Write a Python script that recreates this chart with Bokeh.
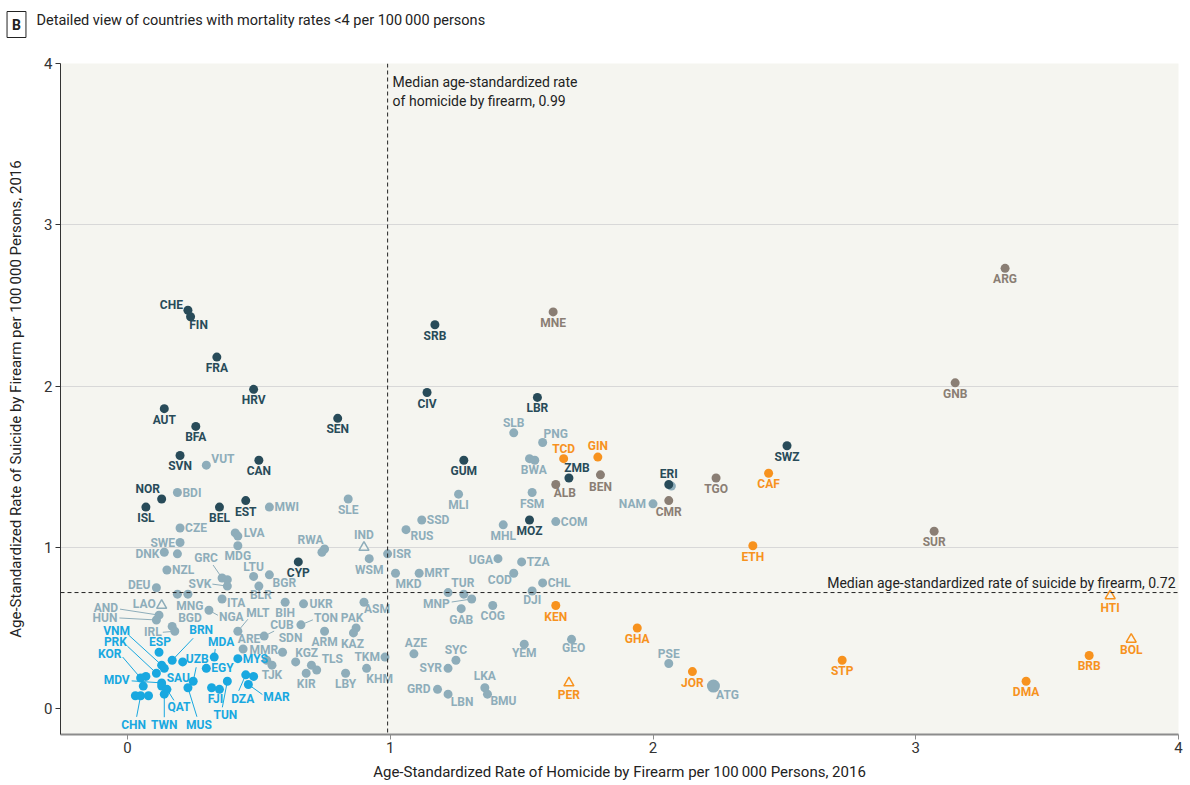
from bokeh.plotting import figure
from bokeh.models import Range1d, Label, Span, ColumnDataSource, FixedTicker
from bokeh.core.properties import value
from bokeh.embed import file_html
from bokeh.resources import INLINE

# ---------------- data ----------------
codes = ["CHE","FIN","FRA","HRV","AUT","BFA","SVN","CAN","SEN","NOR","ISL","BEL","EST","CYP",
         "SRB","CIV","LBR","GUM","ZMB","MOZ","ERI","SWZ",
         "VUT","BDI","CZE","SWE","DNK","","NZL","DEU","","MNG","LAO","AND","HUN","BGD","IRL","NGA",
         "GRC","","SVK","ITA","","LVA","MDG","MWI","SLE","","RWA","IND","WSM","ISR","LTU","BGR","BLR",
         "UKR","BIH","MLT","ARE","CUB","TON","SDN","MMR","TJK","KGZ","KIR","","TLS","ARM","PAK","KAZ",
         "ASM","LBY","TKM","KHM","MKD","MRT","RUS","SSD","MLI","MHL","FSM","COM","UGA","TZA","COD",
         "CHL","DJI","","TUR","MNP","GAB","COG","GEO","AZE","SYC","SYR","GRD","LBN","LKA","BMU","YEM",
         "SLB","PNG","","BWA","NAM","","PSE","ATG",
         "ALB","BEN","CMR","TGO","SUR","GNB","ARG","MNE",
         "TCD","GIN","CAF","ETH","KEN","GHA","JOR","STP","DMA","BRB","PER","HTI","BOL",
         "ESP","BRN","","VNM","","PRK","","KOR","MDV","SAU","QAT","","","CHN","","TWN","MUS","UZB",
         "EGY","MDA","FJI","","TUN","DZA","","MAR","MYS"]

homicide = [0.23,0.24,0.34,0.48,0.14,0.26,0.20,0.50,0.80,0.13,0.07,0.35,0.45,0.65,
            1.17,1.14,1.56,1.28,1.68,1.53,2.06,2.51,
            0.30,0.19,0.20,0.20,0.14,0.19,0.15,0.11,0.19,0.23,0.13,0.12,0.11,0.17,0.18,0.31,
            0.36,0.38,0.38,0.36,0.41,0.42,0.42,0.54,0.84,0.74,0.75,0.90,0.92,0.99,0.48,0.54,0.50,
            0.67,0.60,0.42,0.44,0.52,0.66,0.59,0.53,0.55,0.64,0.68,0.70,0.72,0.75,0.87,0.86,
            0.90,0.83,0.98,0.91,1.02,1.11,1.06,1.12,1.26,1.43,1.54,1.63,1.41,1.50,1.47,
            1.58,1.54,1.22,1.28,1.31,1.27,1.39,1.69,1.09,1.25,1.22,1.18,1.22,1.36,1.37,1.51,
            1.47,1.58,1.53,1.55,2.00,2.07,2.06,2.23,
            1.63,1.80,2.06,2.24,3.07,3.15,3.34,1.62,
            1.66,1.79,2.44,2.38,1.63,1.94,2.15,2.72,3.42,3.66,1.68,3.74,3.82,
            0.12,0.17,0.21,0.13,0.14,0.11,0.07,0.05,0.13,0.13,0.15,0.06,0.03,0.05,0.08,0.14,0.23,0.25,
            0.30,0.33,0.32,0.35,0.38,0.45,0.48,0.46,0.42]

suicide = [2.47,2.43,2.18,1.98,1.86,1.75,1.57,1.54,1.80,1.30,1.25,1.25,1.29,0.91,
           2.38,1.96,1.93,1.54,1.43,1.17,1.39,1.63,
           1.51,1.34,1.12,1.03,0.97,0.96,0.86,0.75,0.71,0.71,0.64,0.58,0.55,0.51,0.48,0.61,
           0.81,0.80,0.76,0.68,1.09,1.07,1.01,1.25,1.30,0.97,0.99,1.00,0.93,0.96,0.82,0.83,0.76,
           0.65,0.66,0.48,0.37,0.45,0.52,0.35,0.30,0.27,0.29,0.22,0.27,0.24,0.48,0.50,0.47,
           0.66,0.22,0.32,0.25,0.84,0.84,1.11,1.17,1.33,1.14,1.34,1.16,0.93,0.91,0.84,
           0.78,0.73,0.72,0.71,0.68,0.62,0.64,0.43,0.34,0.30,0.25,0.12,0.09,0.13,0.09,0.40,
           1.71,1.65,1.55,1.54,1.27,1.38,0.28,0.14,
           1.39,1.45,1.29,1.43,1.10,2.02,2.73,2.46,
           1.55,1.56,1.46,1.01,0.64,0.50,0.23,0.30,0.17,0.33,0.16,0.70,0.43,
           0.35,0.30,0.29,0.27,0.25,0.22,0.20,0.19,0.16,0.14,0.12,0.14,0.08,0.08,0.08,0.09,0.13,0.17,
           0.25,0.32,0.13,0.12,0.17,0.21,0.20,0.15,0.31]

group = (["D"] * 22 + ["L"] * 88 + ["G"] * 8 + ["O"] * 13 + ["B"] * 27)

TRIANGLES = {"LAO", "IND", "PER", "HTI", "BOL"}
BIG = {"ATG": 13}

COLORS = {"D": "#284b59", "L": "#8eadba", "B": "#19a8e0", "G": "#8a7e74", "O": "#f7921e"}

# label placement: (dx, dy, align[, leader end offset]) in screen pixels, dy positive = down
DEFAULT = (0, 11, "center")
LAB = {
    "CHE": (-5, -5, "right"), "FIN": (8, 8, "center"), "NOR": (-14, -10, "center"),
    "ZMB": (8, -10, "center"), "ERI": (0, -10, "center"),
    "VUT": (5, -6, "left"), "BDI": (5, 0, "left"), "CZE": (5, 0, "left"), "SWE": (-5, 0, "right"),
    "DNK": (-5, 2, "right"), "NZL": (5, 0, "left"), "DEU": (-6, -3, "right"), "MNG": (2, 12, "center"),
    "LAO": (-6, -1, "right"), "AND": (-41, -7, "right", (-39, -6)), "HUN": (-39, -2, "right", (-37, -2)),
    "BGD": (6, -8, "left"), "IRL": (-13, 1, "right", (-12, 1)), "NGA": (10, 7, "left", (9, 5)),
    "GRC": (-16, -20, "center", (-9, -13)), "SVK": (-16, -2, "right", (-15, -2)), "ITA": (5, 4, "left"),
    "LVA": (6, -3, "left"), "MDG": (0, 10, "center"), "MWI": (5, 0, "left"), "RWA": (-14, -9, "center"),
    "IND": (0, -12, "center"), "ISR": (5, 0, "left"), "LTU": (0, -9, "center"), "BGR": (15, 8, "center"),
    "BLR": (2, 9, "center"), "UKR": (6, 0, "left"), "MLT": (20, -18, "center", (10, -12)),
    "ARE": (6, -10, "center"), "CUB": (6, -11, "left", (10, -5)), "TON": (13, -7, "left", (12, -5)),
    "SDN": (8, -14, "center"), "MMR": (-3, -10, "center"), "TJK": (0, 10, "center"),
    "KGZ": (11, -9, "center"), "TLS": (5, -11, "left"), "PAK": (-4, -10, "center"),
    "KAZ": (-1, 11, "center"), "ASM": (13, 7, "center"), "TKM": (-5, 0, "right"), "KHM": (13, 11, "center"),
    "MKD": (13, 11, "center"), "MRT": (5, 0, "left"), "RUS": (16, 6, "center"), "SSD": (5, 0, "left"),
    "COM": (5, 0, "left"), "UGA": (-5, 1, "right"), "TZA": (5, 0, "left"), "COD": (-14, 7, "center"),
    "CHL": (5, 0, "left"), "DJI": (0, 9, "center"), "TUR": (-1, -11, "center"),
    "MNP": (-22, 5, "right", (-20, 3)), "GEO": (2, 9, "center"), "AZE": (2, -11, "center"),
    "SYC": (0, -10, "center"), "SYR": (-6, 0, "right"), "GRD": (-7, 0, "right"), "LBN": (14, 8, "center"),
    "LKA": (0, -12, "center"), "BMU": (16, 7, "center"), "YEM": (0, 9, "center"), "SLB": (0, -10, "center"),
    "PNG": (13, -9, "center"), "BWA": (-1, 10, "center"), "NAM": (-7, 0, "right"), "PSE": (0, -10, "center"),
    "ATG": (14, 9, "center"), "ALB": (9, 9, "center"), "BEN": (0, 12, "center"),
    "TCD": (0, -10, "center"), "GIN": (0, -11, "center"), "KEN": (0, 12, "center"),
    "PER": (0, 12, "center"), "HTI": (0, 12, "center"),
    "ESP": (1, -10, "center"), "BRN": (29, -30, "center", (21, -22)), "VNM": (-45, -34, "center", (-33, -30)),
    "PRK": (-41, -31, "center", (-29, -27)), "KOR": (-31, -24, "center", (-18, -21)),
    "MDV": (-32, -3, "right", (-30, -2)), "SAU": (5, -8, "left"), "QAT": (12, 18, "center", (7, 11)),
    "CHN": (-7, 29, "center", (-4, 21)), "TWN": (0, 31, "center", (0, 23)), "MUS": (11, 37, "center", (9, 29)),
    "UZB": (4, -22, "center", (3, -14)), "EGY": (5, 0, "left"), "MDA": (7, -15, "center", (1, -8)),
    "FJI": (4, 11, "center"), "TUN": (-2, 34, "center", (-5, 26)), "DZA": (-3, 24, "center", (-7, 16)),
    "MAR": (15, 13, "left", (14, 10)), "MYS": (5, 0, "left"),
}

FONT = "Roboto"
X0, X1 = -0.255, 4.0
Y0, Y1 = -0.16, 4.0
FW, FH = 1118, 670
PX = FW / (X1 - X0)
PY = FH / (Y1 - Y0)
BG = "#f5f5f0"

p = figure(width=1186, height=783, x_range=Range1d(X0, X1), y_range=Range1d(Y0, Y1),
           output_backend="svg", toolbar_location=None,
           min_border_left=60, min_border_right=8, min_border_top=63, min_border_bottom=10)
p.background_fill_color = BG
p.border_fill_color = "white"
p.outline_line_color = None

# axes
for ax in (p.xaxis, p.yaxis):
    ax.ticker = FixedTicker(ticks=[0, 1, 2, 3, 4])
    ax.minor_tick_line_color = None
    ax.major_tick_in = 0
    ax.major_tick_out = 5
    ax.major_label_text_font = FONT
    ax.major_label_text_font_size = "15px"
    ax.major_label_text_color = "#333333"
    ax.axis_label_text_font = FONT
    ax.axis_label_text_font_size = "15px"
    ax.axis_label_text_font_style = "normal"
    ax.axis_label_text_color = "#222222"
p.xaxis.axis_label = "Age-Standardized Rate of Homicide by Firearm per 100\u2009000 Persons, 2016"
p.yaxis.axis_label = "Age-Standardized Rate of Suicide by Firearm per 100\u2009000 Persons, 2016"
p.xaxis.axis_line_color = "#8c8c8c"
p.xaxis.axis_line_width = 2
p.xaxis.major_tick_line_color = "#8c8c8c"
p.yaxis.axis_line_color = "#333333"
p.yaxis.major_tick_line_color = "#333333"
p.xaxis.major_label_standoff = 2
p.xaxis.axis_label_standoff = 7
p.yaxis.major_label_standoff = 3
p.yaxis.axis_label_standoff = 16
p.xgrid.grid_line_color = None
p.ygrid.ticker = FixedTicker(ticks=[1, 2, 3, 4])
p.ygrid.grid_line_color = "#d8d8d8"

# medians
p.add_layout(Span(location=0.99, dimension="height", line_color="#222222", line_width=1, line_dash="4 3"))
p.add_layout(Span(location=0.72, dimension="width", line_color="#222222", line_width=1, line_dash="4 3"))
for txt, off in (("Median age-standardized rate", -18), ("of homicide by firearm, 0.99", -37)):
    p.add_layout(Label(x=0.99, y=Y1, x_offset=5, y_offset=off, text=txt, text_font=FONT,
                       text_font_size="14px", text_color="#222222", text_baseline="middle"))
p.add_layout(Label(x=X1, y=0.72, x_offset=-3, y_offset=10,
                   text="Median age-standardized rate of suicide by firearm, 0.72",
                   text_font=FONT, text_font_size="14px", text_color="#222222",
                   text_align="right", text_baseline="middle"))

# title (each label sits in its own stacked top panel, screen units relative to it)
p.add_layout(Label(x=-44, y=39, x_units="screen", y_units="screen", text="B", text_font=FONT,
                   text_font_size="14px", text_font_style="bold", text_color="#222222",
                   text_align="center", text_baseline="middle",
                   border_line_color="#222222", border_line_width=1, padding=5), "above")
p.add_layout(Label(x=-24, y=17, x_units="screen", y_units="screen",
                   text="Detailed view of countries with mortality rates <4 per 100\u2009000 persons",
                   text_font=FONT, text_font_size="14.5px", text_color="#222222",
                   text_baseline="middle"), "above")

# leaders
lx0, ly0, lx1, ly1, lc = [], [], [], [], []
for c, x, y, g in zip(codes, homicide, suicide, group):
    spec = LAB.get(c, DEFAULT)
    if c and len(spec) == 4:
        ex, ey = spec[3]
        lx0.append(x); ly0.append(y)
        lx1.append(x + ex / PX); ly1.append(y - ey / PY)
        lc.append(COLORS[g])
p.segment(x0="x0", y0="y0", x1="x1", y1="y1", line_color="c", line_width=1,
          source=ColumnDataSource(dict(x0=lx0, y0=ly0, x1=lx1, y1=ly1, c=lc)))

# points
for g in ["L", "G", "D", "O", "B"]:
    idx = [i for i in range(len(codes)) if group[i] == g and codes[i] not in TRIANGLES]
    src = ColumnDataSource(dict(x=[homicide[i] for i in idx], y=[suicide[i] for i in idx],
                                s=[BIG.get(codes[i], 9) for i in idx]))
    p.scatter("x", "y", size="s", source=src, marker="circle", fill_color=COLORS[g], line_color=None)
    tidx = [i for i in range(len(codes)) if group[i] == g and codes[i] in TRIANGLES]
    if tidx:
        p.scatter([homicide[i] for i in tidx], [suicide[i] for i in tidx], marker="triangle", size=10,
                  fill_color=BG, line_color=COLORS[g], line_width=1.5)

# labels
for align in ["left", "center", "right"]:
    d = dict(x=[], y=[], t=[], dx=[], dy=[], c=[])
    for c, x, y, g in zip(codes, homicide, suicide, group):
        if not c:
            continue
        spec = LAB.get(c, DEFAULT)
        if spec[2] != align:
            continue
        d["x"].append(x); d["y"].append(y); d["t"].append(c)
        d["dx"].append(spec[0]); d["dy"].append(spec[1]); d["c"].append(COLORS[g])
    p.text("x", "y", text="t", x_offset="dx", y_offset="dy", text_color="c",
           source=ColumnDataSource(d), text_align=align, text_baseline="middle",
           text_font=value(FONT), text_font_size="12px", text_font_style="bold")

open("out.html", "w").write(file_html(p, INLINE))
